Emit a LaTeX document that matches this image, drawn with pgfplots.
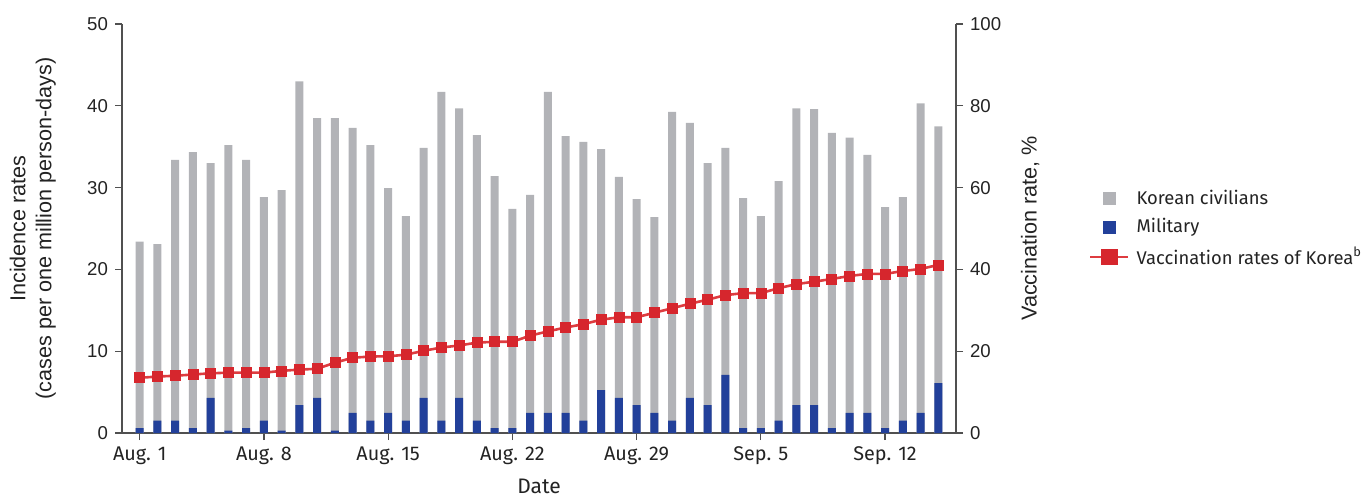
\documentclass[border=0pt]{standalone}
\usepackage{fontspec}
\setmainfont{Liberation Sans}
\newfontfamily\legendfont{Fira Sans}
\usepackage{pgfplots}
\pgfplotsset{compat=1.18}
\definecolor{civ}{RGB}{178,179,183}
\definecolor{mil}{RGB}{34,64,154}
\definecolor{vac}{RGB}{214,38,45}
\definecolor{vacl}{RGB}{222,60,64}
\definecolor{axc}{RGB}{80,80,80}
\definecolor{txt}{RGB}{35,35,35}
\begin{document}
\begin{tikzpicture}
\pgfplotsset{
  common/.style={
    width=417pt, height=204.5pt, scale only axis,
    xmin=-1, xmax=46,
    font=\fontsize{9.3pt}{11pt}\selectfont,
    /pgf/number format/assume math mode=true,
    tick align=outside,
    major tick length=3.5pt,
    every tick/.style={axc, line width=0.6pt},
    axis line style={axc, line width=0.75pt},
    tick label style={txt},
    label style={txt, font=\fontsize{10.8pt}{13pt}\selectfont},
  }
}
\begin{axis}[common,
  axis x line*=bottom, axis y line*=left,
  ymin=0, ymax=50, ytick={0,10,...,50},
  xtick={0,7,...,42},
  xticklabels={Aug. 1,Aug. 8,Aug. 15,Aug. 22,Aug. 29,Sep. 5,Sep. 12},
  xticklabel style={font=\legendfont\fontsize{9.9pt}{11pt}\selectfont},
  xlabel={Date},
  xlabel style={at={(axis description cs:0.5,-0.131)}, anchor=center, font=\legendfont\fontsize{10.5pt}{12pt}\selectfont},
  ylabel={Incidence rates\\(cases per one million person-days)},
  ylabel style={align=center, at={(axis description cs:-0.107,0.5)}, anchor=center},
]
\coordinate (bl) at (rel axis cs:0,0);
\coordinate (tr) at (rel axis cs:1,1);
\addplot[ybar, bar width=4pt, bar shift=0pt, fill=civ, draw=none] coordinates {
(0,23.4)(1,23.1)(2,33.4)(3,34.35)(4,33.0)(5,35.2)(6,33.4)(7,28.85)(8,29.7)(9,43.0)
(10,38.5)(11,38.5)(12,37.3)(13,35.2)(14,29.95)(15,26.5)(16,34.85)(17,41.7)(18,39.7)(19,36.4)
(20,31.4)(21,27.4)(22,29.1)(23,41.7)(24,36.3)(25,35.6)(26,34.7)(27,31.3)(28,28.6)(29,26.4)
(30,39.25)(31,37.9)(32,33.0)(33,34.85)(34,28.7)(35,26.5)(36,30.8)(37,39.7)(38,39.6)(39,36.7)
(40,36.1)(41,34.0)(42,27.6)(43,28.85)(44,40.3)(45,37.5)};
\addplot[ybar, bar width=4pt, bar shift=0pt, fill=mil, draw=none] coordinates {
(0,0.6)(1,1.5)(2,1.5)(3,0.6)(4,4.3)(5,0.3)(6,0.6)(7,1.5)(8,0.3)(9,3.4)
(10,4.3)(11,0.3)(12,2.45)(13,1.5)(14,2.45)(15,1.5)(16,4.3)(17,1.5)(18,4.3)(19,1.5)
(20,0.6)(21,0.6)(22,2.45)(23,2.45)(24,2.45)(25,1.5)(26,5.25)(27,4.3)(28,3.4)(29,2.45)
(30,1.5)(31,4.3)(32,3.4)(33,7.1)(34,0.6)(35,0.6)(36,1.5)(37,3.4)(38,3.4)(39,0.6)
(40,2.45)(41,2.45)(42,0.6)(43,1.5)(44,2.45)(45,6.1)};
\end{axis}
\begin{axis}[common,
  axis y line*=right, axis x line=none,
  ymin=0, ymax=100, ytick={0,20,...,100},
  ylabel={Vaccination rate, \%},
  ylabel style={at={(axis description cs:1.089,0.5)}, anchor=center},
  legend style={draw=none, fill=none, at={(axis description cs:1.159,0.5)}, anchor=west,
    font=\legendfont\fontsize{9.2pt}{11pt}\selectfont, text=txt, row sep=1.5pt,
    inner xsep=0pt, nodes={inner xsep=3.5pt}},
  legend cell align=left,
]
\addlegendimage{legend image code/.code={\fill[civ] (6.5pt,-3pt) rectangle (12.5pt,3pt);}}
\addlegendentry{Korean civilians}
\addlegendimage{legend image code/.code={\fill[mil] (6.5pt,-3pt) rectangle (12.5pt,3pt);}}
\addlegendentry{Military}
\addplot[vacl, line width=1.3pt, mark=square*, mark size=2.5pt, mark options={fill=vac, draw=vac, line width=0.3pt},
  legend image code/.code={\draw[vacl, line width=1.3pt] (0pt,0pt) -- (19pt,0pt); \fill[vac] (6pt,-3.3pt) rectangle (13pt,3.3pt);}] coordinates {
(0,13.5)(1,13.8)(2,14.0)(3,14.3)(4,14.6)(5,14.75)(6,14.75)(7,14.75)(8,15.2)(9,15.5)
(10,15.7)(11,17.2)(12,18.4)(13,18.7)(14,18.75)(15,19.15)(16,20.1)(17,20.9)(18,21.4)(19,22.1)
(20,22.3)(21,22.3)(22,23.8)(23,24.85)(24,25.8)(25,26.6)(26,27.7)(27,28.3)(28,28.3)(29,29.4)
(30,30.5)(31,31.6)(32,32.6)(33,33.7)(34,34.2)(35,34.2)(36,35.4)(37,36.4)(38,37.0)(39,37.65)
(40,38.4)(41,38.9)(42,38.9)(43,39.6)(44,40.1)(45,41.1)};
\addlegendentry{Vaccination rates of Korea\textsuperscript{b}}
\end{axis}
\pgfresetboundingbox
\path ([shift={(-61pt,-32.5pt)}]bl) rectangle ([shift={(205pt,12pt)}]tr);
\end{tikzpicture}
\end{document}
